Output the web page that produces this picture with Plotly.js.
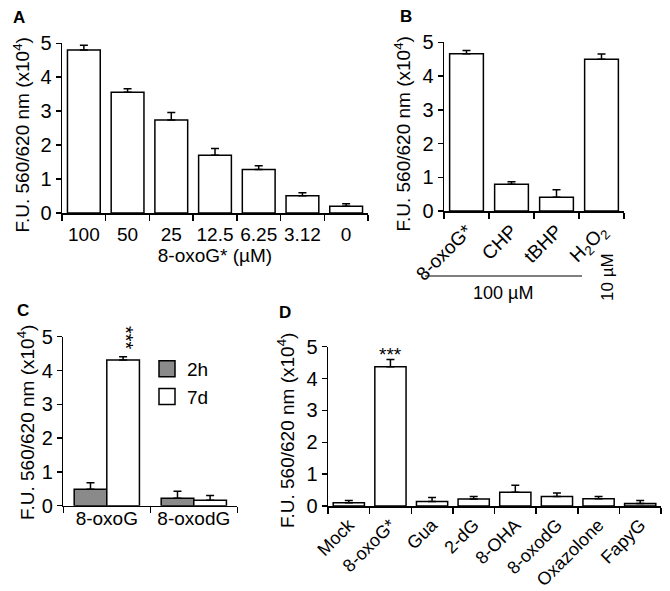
<!DOCTYPE html>
<html><head><meta charset="utf-8">
<script src="https://cdn.plot.ly/plotly-3.0.1.min.js"></script>
<style>html,body{margin:0;padding:0;background:#fff}#chart{width:670px;height:591px}</style>
</head><body><div id="chart"></div>
<script>
// Panel A
const catsA = ['100','50','25','12.5','6.25','3.12','0'];
const valsA = [4.80, 3.56, 2.74, 1.70, 1.28, 0.51, 0.20];
const errA  = [0.14, 0.10, 0.22, 0.20, 0.11, 0.09, 0.07];
// Panel B
const catsB = ['8-oxoG*','CHP','tBHP','H<sub>2</sub>O<sub>2</sub>'];
const valsB = [4.66, 0.79, 0.41, 4.50];
const errB  = [0.10, 0.08, 0.22, 0.15];
// Panel C
const catsC = ['8-oxoG','8-oxodG'];
const valsC2h = [0.49, 0.22];
const errC2h  = [0.19, 0.21];
const valsC7d = [4.31, 0.16];
const errC7d  = [0.10, 0.14];
// Panel D
const catsD = ['Mock','8-oxoG*','Gua','2-dG','8-OHA','8-oxodG','Oxazolone','FapyG'];
const valsD = [0.10, 4.37, 0.14, 0.22, 0.43, 0.30, 0.23, 0.08];
const errD  = [0.07, 0.23, 0.13, 0.08, 0.22, 0.11, 0.07, 0.09];
const yTicks = [0,1,2,3,4,5];

const W = 670, H = 591;
const px = v => v / W;
const py = v => 1 - v / H;
const FONT = 'Arial, "Liberation Sans", sans-serif';
const TF = 19;
const zeros = a => a.map(() => 0);
const err = a => ({type:'data', array:a, arrayminus:zeros(a), symmetric:false, color:'#000', thickness:1.5, width:4});
const line = {color:'#000', width:1.5};

const traces = [
  {type:'bar', x:catsA, y:valsA, xaxis:'x', yaxis:'y', marker:{color:'#fff', line:line}, error_y:err(errA), showlegend:false, cliponaxis:false},
  {type:'bar', x:catsB, y:valsB, xaxis:'x2', yaxis:'y2', marker:{color:'#fff', line:line}, error_y:err(errB), showlegend:false, cliponaxis:false},
  {type:'bar', name:'2h', x:catsC, y:valsC2h, xaxis:'x3', yaxis:'y3', marker:{color:'#8a8a8a', line:line}, error_y:err(errC2h), showlegend:false, offsetgroup:'a', cliponaxis:false},
  {type:'bar', name:'7d', x:catsC, y:valsC7d, xaxis:'x3', yaxis:'y3', marker:{color:'#fff', line:line}, error_y:err(errC7d), showlegend:false, offsetgroup:'b', cliponaxis:false},
  {type:'scatter', name:'2h', x:[null], y:[null], xaxis:'x3', yaxis:'y3', mode:'markers', marker:{symbol:'square', size:16, color:'#8a8a8a', line:{color:'#000', width:1.5}}},
  {type:'scatter', name:'7d', x:[null], y:[null], xaxis:'x3', yaxis:'y3', mode:'markers', marker:{symbol:'square', size:16, color:'#fff', line:{color:'#000', width:1.5}}},
  {type:'bar', x:catsD, y:valsD, xaxis:'x4', yaxis:'y4', marker:{color:catsD.map(c => c==='FapyG' ? '#c8c8c8' : '#fff'), line:line}, error_y:err(errD), showlegend:false, cliponaxis:false}
];

const yTitle = 'F.U. 560/620 nm (x10<sup>4</sup>)';
function xa(dom, angle, extra) {
  return Object.assign({domain:dom, type:'category', showline:true, linecolor:'#000', linewidth:1.5,
    ticks:'outside', ticklen:6, tickwidth:1.5, tickcolor:'#000', tickson:'boundaries', tickangle:angle,
    tickfont:{family:FONT, size:TF, color:'#000'}, showgrid:false, zeroline:false, fixedrange:true}, extra || {});
}
function ya(dom, anchor) {
  return {domain:dom, anchor:anchor, range:[0,5], tickvals:yTicks, showline:true, linecolor:'#000', linewidth:1.5,
    ticks:'outside', ticklen:5, tickwidth:1.5, tickcolor:'#000', tickfont:{family:FONT, size:20, color:'#000'},
    showgrid:false, zeroline:false, fixedrange:true};
}
function ann(text, x, y, size, extra) {
  return Object.assign({text:text, x:px(x), y:py(y), xref:'paper', yref:'paper', xanchor:'center', yanchor:'middle',
    showarrow:false, font:{family:FONT, size:size, color:'#000'}}, extra || {});
}

const layout = {
  width:W, height:H, margin:{l:0,r:0,t:0,b:0}, paper_bgcolor:'#fff', plot_bgcolor:'#fff',
  font:{family:FONT, color:'#000'},
  bargap:0.25,
  xaxis: xa([px(62), px(368)], 0, {anchor:'y', ticklabelstandoff:4, title:{text:'8-oxoG* (µM)', font:{family:FONT, size:19, color:'#000'}, standoff:0}}),
  yaxis: ya([py(213), py(43.3)], 'x'),
  xaxis2: xa([px(444), px(624)], -45, {anchor:'y2'}),
  yaxis2: ya([py(211), py(42.3)], 'x2'),
  xaxis3: xa([px(63.3), px(237.3)], 0, {anchor:'y3', ticklabelstandoff:-5}),
  yaxis3: ya([py(505.7), py(336.7)], 'x3'),
  xaxis4: xa([px(328), px(661)], -45, {anchor:'y4', tickfont:{family:FONT, size:18, color:'#000'}}),
  yaxis4: ya([py(506), py(346.7)], 'x4'),
  legend:{x:px(147), y:py(350), xanchor:'left', yanchor:'top', bgcolor:'rgba(0,0,0,0)', font:{family:FONT, size:19, color:'#000'}, tracegroupgap:0},
  shapes:[
    {type:'line', xref:'paper', yref:'paper', x0:px(425), x1:px(582), y0:py(276), y1:py(276), line:{color:'#000', width:1}}
  ],
  annotations:[
    ann('<b>A</b>', 19, 18, 17),
    ann('<b>B</b>', 406, 16, 17),
    ann('<b>C</b>', 23, 311, 17),
    ann('<b>D</b>', 285, 312, 17),
    ann(yTitle, 21.5, 135, 19, {textangle:-90}),
    ann(yTitle, 402.5, 134, 19, {textangle:-90}),
    ann(yTitle, 25.5, 422.5, 19, {textangle:-90}),
    ann(yTitle, 286, 431, 19, {textangle:-90}),
    ann('100 µM', 503, 293, 18),
    ann('10 µM', 607, 277, 17, {textangle:-90}),
    ann('***', 126, 338, 20, {textangle:90}),
    ann('***', 390, 354, 19)
  ]
};
Plotly.newPlot('chart', traces, layout, {staticPlot:true, displayModeBar:false});
</script></body></html>
